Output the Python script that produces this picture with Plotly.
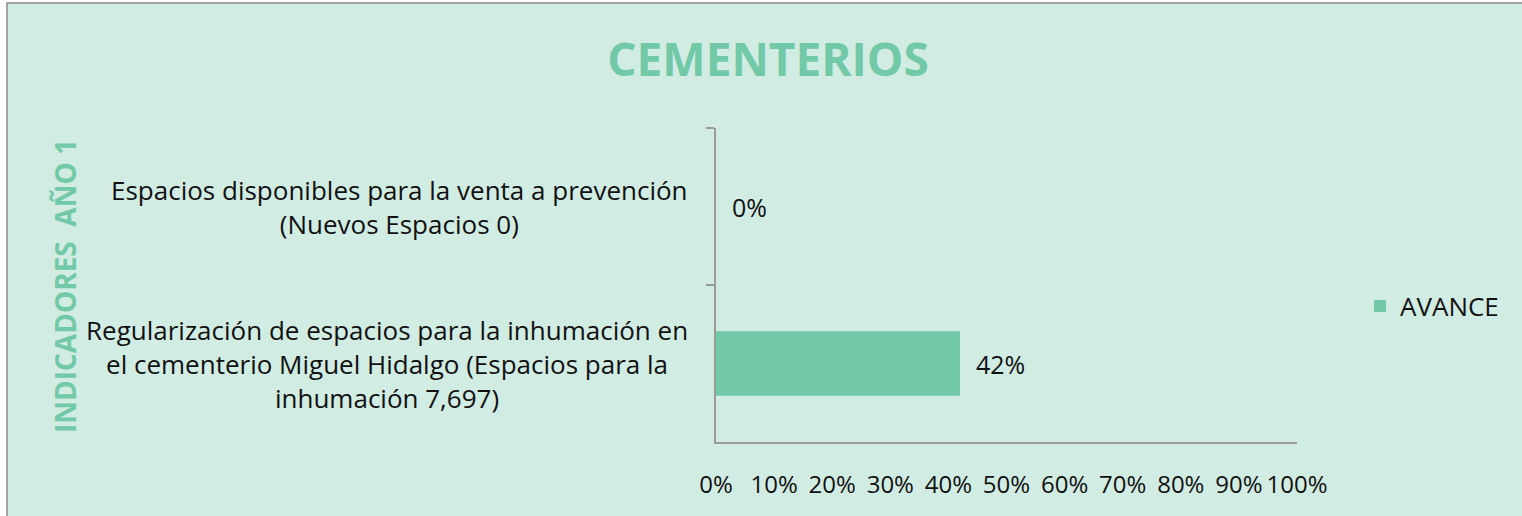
import plotly.graph_objects as go

categories = [
    "Espacios disponibles para la venta a prevención<br>(Nuevos Espacios 0)",
    "Regularización de espacios para la inhumación en<br>el cementerio Miguel Hidalgo (Espacios para la<br>inhumación 7,697)",
]
cat_keys = ["Espacios", "Regularizacion"]
avance = [0.0, 0.42]
x_ticks = [0, 0.1, 0.2, 0.3, 0.4, 0.5, 0.6, 0.7, 0.8, 0.9, 1.0]
series_name = "AVANCE"
title_text = "CEMENTERIOS"
y_title = "INDICADORES  AÑO 1"

BG = "#D1ECE3"
GREEN = "#72C9A7"
AXIS = "#9A9A9A"
FONT = "Open Sans"
TXT = "#111111"

W, H = 1522, 516
L, R, T, B = 716, 225, 128, 74
pw = W - L - R
ph = H - T - B

fig = go.Figure()
fig.add_trace(go.Bar(
    y=cat_keys, x=avance, orientation="h", name=series_name,
    marker=dict(color=GREEN, line=dict(width=0)),
    texttemplate="&nbsp;&nbsp;%{x:.0%}", textposition="outside",
    textfont=dict(family=FONT, size=25, color=TXT),
    cliponaxis=False, showlegend=True,
))

annotations = []
for key, lab in zip(cat_keys, categories):
    annotations.append(dict(
        xref="paper", yref="y", x=(690 - L) / pw, y=key,
        xanchor="right", yanchor="middle", align="center",
        text=lab, showarrow=False,
        font=dict(family=FONT, size=26, color=TXT),
    ))
annotations.append(dict(
    xref="paper", yref="paper", x=(65 - L) / pw, y=(H - B - 286) / ph,
    xanchor="center", yanchor="middle", textangle=-90,
    text="<b>" + y_title.replace("  ", "&nbsp;&nbsp;") + "</b>", showarrow=False,
    font=dict(family=FONT, size=28, color=GREEN),
))

shapes = [dict(
    type="rect", xref="paper", yref="paper", layer="below",
    x0=(7 - L) / pw, x1=(W + 20 - L) / pw,
    y0=(H - B - (H + 20)) / ph, y1=(H - B - 3) / ph,
    fillcolor=BG, line=dict(color="#8A8A8A", width=1.5),
)]

fig.update_layout(
    width=W, height=H,
    margin=dict(l=L, r=R, t=T, b=B, pad=0, autoexpand=False),
    paper_bgcolor="white", plot_bgcolor="rgba(0,0,0,0)",
    title=dict(text="<b>" + title_text + "</b>", x=768 / W, xref="container",
               y=1 - 60 / H, yref="container", xanchor="center", yanchor="middle",
               font=dict(family=FONT, size=46, color=GREEN)),
    bargap=0.59,
    xaxis=dict(range=[0, 1], tickvals=x_ticks, tickformat=".0%", tickangle=0,
               automargin=False,
               showgrid=False, zeroline=False, showline=True, linecolor=AXIS,
               linewidth=1.5, ticks="", ticklabelstandoff=20,
               tickfont=dict(family=FONT, size=24, color=TXT), fixedrange=True),
    yaxis=dict(type="category", autorange="reversed", showticklabels=False,
               automargin=False,
               showgrid=False, zeroline=False, showline=True, linecolor=AXIS,
               linewidth=1.5, ticks="outside", ticklen=8, tickcolor=AXIS, tickwidth=1.5,
               tickson="boundaries", fixedrange=True),
    legend=dict(x=(1360 - L) / pw, y=(H - B - 306) / ph, xanchor="left", yanchor="middle",
                bgcolor="rgba(0,0,0,0)", font=dict(family=FONT, size=26, color=TXT)),
    annotations=annotations, shapes=shapes,
    font=dict(family=FONT),
)

fig.write_html("out.html", config={"displayModeBar": False},
               post_script="document.body.style.margin='0';document.body.style.overflow='hidden';")
